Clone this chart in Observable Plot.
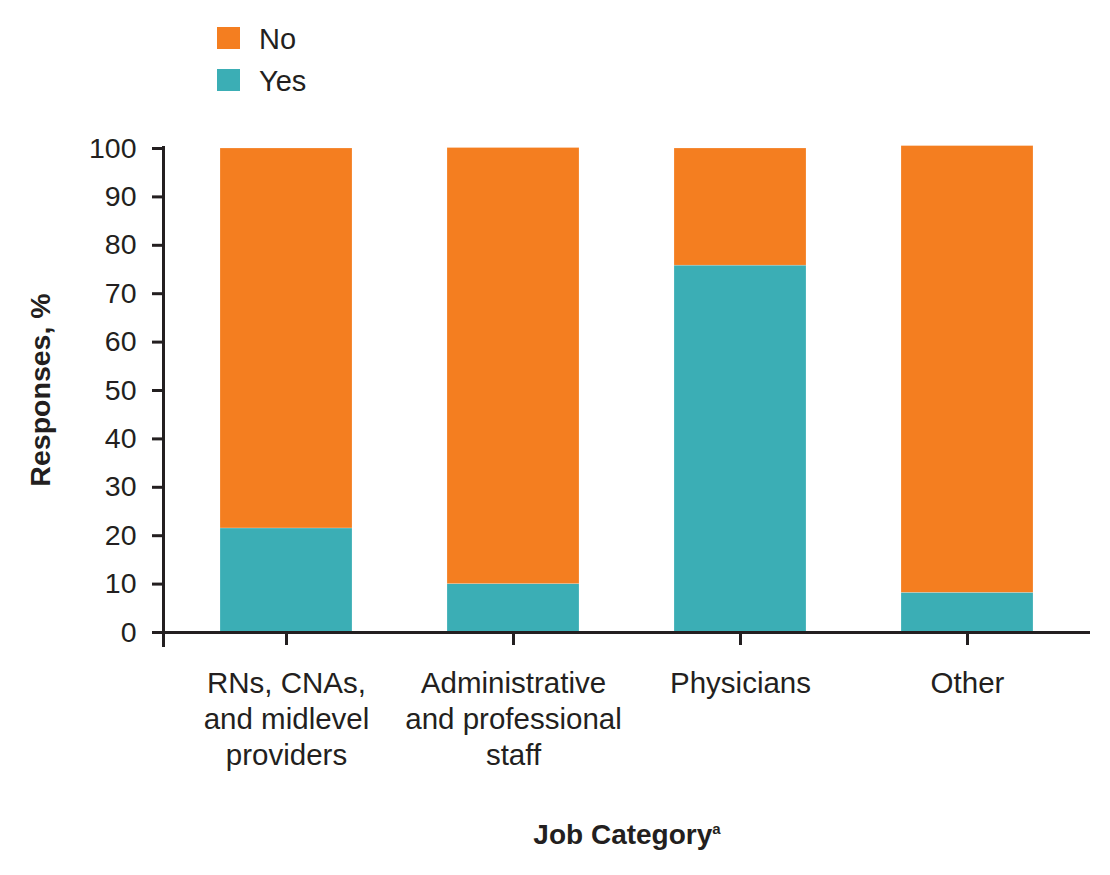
<!DOCTYPE html>
<html>
<head>
<meta charset="utf-8">
<script src="https://cdn.jsdelivr.net/npm/d3@7"></script>
<script src="https://cdn.jsdelivr.net/npm/@observablehq/plot@0.6"></script>
<style>
  html, body { margin: 0; padding: 0; background: #fff; }
  #wrap { position: relative; width: 1110px; height: 875px; font-family: "Liberation Sans", Arial, sans-serif; color: #231f20; }
  #chart { position: absolute; left: 0; top: 0; }
  .sw { position: absolute; left: 217px; width: 23px; height: 22px; }
  .lt { position: absolute; left: 259px; font-size: 29px; line-height: 1; transform: translateY(-50%); }
  #ylab { position: absolute; left: 40px; top: 390px; font-size: 28.5px; font-weight: bold; transform: translate(-50%, -50%) rotate(-90deg); white-space: nowrap; }
  #xlab { position: absolute; left: 627px; top: 835px; font-size: 28px; font-weight: bold; transform: translate(-50%, -50%); white-space: nowrap; }
  #xlab sup { font-size: 15px; vertical-align: 10px; }
</style>
</head>
<body>
<div id="wrap">
  <div id="chart"></div>
  <div class="sw" id="swNo" style="top:27px;"></div><div class="lt" style="top:39px;">No</div>
  <div class="sw" id="swYes" style="top:69px;"></div><div class="lt" style="top:81px;">Yes</div>
  <div id="ylab">Responses, %</div>
  <div id="xlab">Job Category<sup>a</sup></div>
</div>
<script>
const categories = ["RNs, CNAs,\nand midlevel\nproviders", "Administrative\nand professional\nstaff", "Physicians", "Other"];
const yesValues = [21.5, 10.0, 75.8, 8.2];
const noValues = [78.5, 90.1, 24.2, 92.3];
const seriesNames = ["Yes", "No"];
const seriesColors = ["#3BAEB5", "#F47E20"];
const yTicks = [0, 10, 20, 30, 40, 50, 60, 70, 80, 90, 100];

document.getElementById("swYes").style.background = seriesColors[0];
document.getElementById("swNo").style.background = seriesColors[1];

const rows = [];
categories.forEach((c, i) => {
  rows.push({category: c, response: "Yes", value: yesValues[i]});
  rows.push({category: c, response: "No", value: noValues[i]});
});

const ink = "#231f20";
const chart = Plot.plot({
  width: 1110,
  height: 875,
  marginTop: 148,
  marginBottom: 243,
  marginLeft: 163,
  marginRight: 20,
  style: {fontFamily: "Liberation Sans, Arial, sans-serif", fontSize: "28px", color: ink, background: "white"},
  x: {domain: categories, paddingInner: 0.42, paddingOuter: 0.243, label: null},
  y: {domain: [0, 100], label: null},
  color: {domain: seriesNames, range: seriesColors},
  marks: [
    Plot.barY(rows, {x: "category", y: "value", fill: "response", stroke: "white", strokeWidth: 0.5, strokeOpacity: 0.4}),
    Plot.axisY({ticks: yTicks, tickSize: 11, tickPadding: 16, stroke: ink, strokeWidth: 3, fill: ink, fontSize: 28.5, label: null}),
    Plot.axisX({tickSize: 13, tickPadding: 22, stroke: ink, strokeWidth: 3, fill: ink, fontSize: 29.5, lineHeight: 1.22, label: null}),
    Plot.frame({anchor: "left", stroke: ink, strokeWidth: 3, insetBottom: -13, insetTop: -1}),
    Plot.ruleY([0], {stroke: ink, strokeWidth: 3, insetLeft: -11})
  ]
});
document.getElementById("chart").appendChild(chart);
</script>
</body>
</html>
